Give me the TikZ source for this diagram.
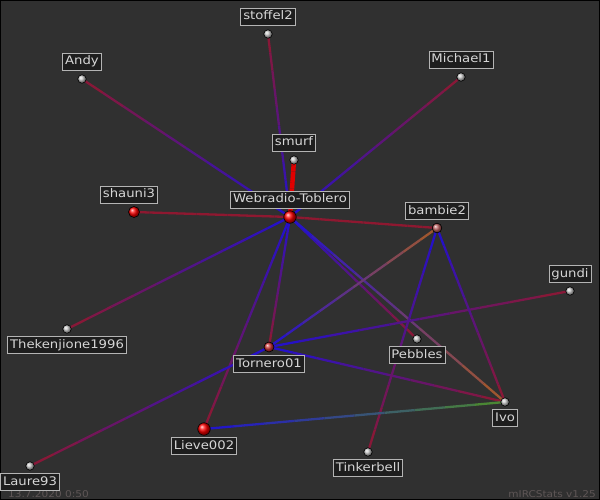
\documentclass[tikz,border=0pt]{standalone}
\usepackage{fontspec}
\setmainfont{DejaVu Sans}[FakeStretch=1.12]
\usetikzlibrary{positioning,calc}
\definecolor{bg}{HTML}{303030}
\definecolor{lblfill}{HTML}{1E1E1E}
\definecolor{lbldraw}{HTML}{B4B4B4}
\definecolor{lbltext}{HTML}{D6D6D6}
\definecolor{ered}{HTML}{8E1830}
\definecolor{eblue}{HTML}{2010D0}
\definecolor{eorange}{HTML}{A65A28}
\definecolor{egreen}{HTML}{4C8C2C}
\definecolor{hot}{HTML}{E00000}
\definecolor{foot}{HTML}{5E5656}
\pgfdeclarelayer{back}
\pgfdeclarelayer{edges}
\pgfsetlayers{back,edges,main}
% gradient edge: [width]{from}{to}{colour at from}{colour at to}
\newcommand{\gedge}[5][2.3pt]{%
  \foreach \k [evaluate=\k as \pc using int(95-10*\k), evaluate=\k as \nk using \k+1] in {0,...,9}
    \draw[line width=#1,color=#4!\pc!#5] ($(#2.center)!\k/10!(#3.center)$) -- ($(#2.center)!\nk/10!(#3.center)$);}

\begin{document}
\begin{tikzpicture}[x=1pt,y=-1pt,
  dot/.style={circle,draw=black,line width=0.6pt,inner sep=0pt,outer sep=0pt,shading=ball,ball color=#1},
  gdot/.style={dot=gray!45,minimum size=8.5pt},
  rdot/.style={dot=red,minimum size=12.5pt},
  lbl/.style={draw=lbldraw,fill=lblfill,text=lbltext,line width=0.8pt,inner xsep=2.5pt,inner ysep=0pt,
    minimum height=17pt,text height=8.8pt,text depth=2.5pt,font=\fontsize{11.8}{13}\selectfont},
  stamp/.style={text=foot,inner sep=0pt,font=\fontsize{9.4}{11}\selectfont}]
  \useasboundingbox (0,0) rectangle (600,500);
  \begin{pgfonlayer}{back}
    \fill[bg] (0,0) rectangle (600,500);
    \draw[black,line width=1pt] (0.5,0.5) rectangle (599.5,499.5);
  \end{pgfonlayer}

  \node[stamp,anchor=base west] (date) at (8,497) {13.7.2020 0:50};
  \node[stamp,anchor=base east] (ver) at (596,497) {mIRCStats v1.25};

  \node[gdot] (stoffel) at (268,34) {};
  \node[gdot] (andy) at (82,79) {};
  \node[gdot] (michael) at (461,77) {};
  \node[gdot] (smurf) at (294,160) {};
  \node[rdot] (web) at (290,217) {};
  \node[dot=red,minimum size=11pt] (shauni) at (134,212) {};
  \node[dot={red!40!gray!90!white},minimum size=9.7pt] (bambie) at (437,228) {};
  \node[gdot] (gundi) at (570,291) {};
  \node[gdot] (theken) at (67,329) {};
  \node[dot={red!60!gray},minimum size=10pt] (tornero) at (269,347) {};
  \node[gdot] (pebbles) at (417,339) {};
  \node[gdot] (ivo) at (505,402) {};
  \node[rdot] (lieve) at (204,429) {};
  \node[gdot] (tinker) at (368,452) {};
  \node[gdot] (laure) at (30,466) {};

  \node[lbl,above=4pt of stoffel] (stoffelL) {stoffel2};
  \node[lbl,above=4pt of andy] (andyL) {Andy};
  \node[lbl,above=4pt of michael] (michaelL) {Michael1};
  \node[lbl,above=4pt of smurf] (smurfL) {smurf};
  \node[lbl,above=2pt of web] (webL) {Webradio-Toblero};
  \node[lbl,above=3pt of shauni,xshift=-5pt] (shauniL) {shauni3};
  \node[lbl,above=3pt of bambie] (bambieL) {bambie2};
  \node[lbl,above=4pt of gundi] (gundiL) {gundi};
  \node[lbl,below=3pt of theken] (thekenL) {Thekenjione1996};
  \node[lbl,below=3pt of tornero] (torneroL) {Tornero01};
  \node[lbl,below=3pt of pebbles] (pebblesL) {Pebbles};
  \node[lbl,below=3pt of ivo] (ivoL) {Ivo};
  \node[lbl,below=2pt of lieve] (lieveL) {Lieve002};
  \node[lbl,below=3pt of tinker] (tinkerL) {Tinkerbell};
  \node[lbl,below=3pt of laure] (laureL) {Laure93};

  \begin{pgfonlayer}{edges}
    \gedge{stoffel}{web}{ered}{eblue}
    \gedge{andy}{web}{ered}{eblue}
    \gedge{michael}{web}{ered}{eblue}
    \gedge{shauni}{web}{ered}{ered}
    \gedge{bambie}{web}{ered}{ered}
    \gedge{theken}{web}{ered}{eblue}
    \gedge{tornero}{web}{ered}{eblue}
    \gedge{pebbles}{web}{ered}{eblue}
    \gedge{ivo}{web}{eorange}{eblue}
    \gedge{lieve}{web}{ered}{eblue}
    \gedge{bambie}{tornero}{eorange}{eblue}
    \gedge{gundi}{tornero}{ered}{eblue}
    \gedge{ivo}{tornero}{ered}{eblue}
    \gedge{laure}{tornero}{ered}{eblue}
    \gedge{ivo}{bambie}{ered}{eblue}
    \gedge{tinker}{bambie}{ered}{eblue}
    \gedge{ivo}{lieve}{egreen}{eblue}
    \gedge[4.5pt]{smurf}{web}{hot}{hot}
  \end{pgfonlayer}
\end{tikzpicture}
\end{document}
